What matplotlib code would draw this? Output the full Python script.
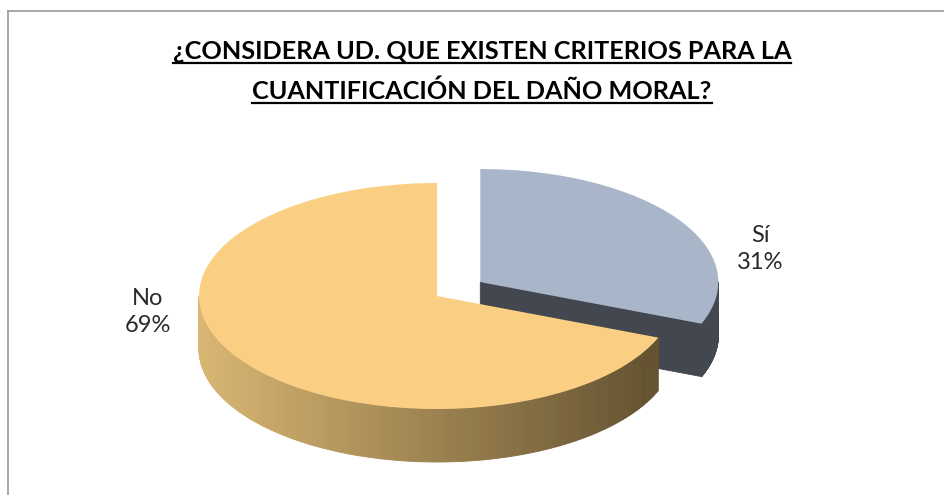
import numpy as np
import matplotlib
matplotlib.use('Agg')
import matplotlib.pyplot as plt
from matplotlib.collections import PolyCollection
from matplotlib.lines import Line2D
from matplotlib.colors import to_rgb

# data
labels = ['Sí', 'No']
shares = [31, 69]
explode = [0.22, 0.0]
title_lines = ['¿CONSIDERA UD. QUE EXISTEN CRITERIOS PARA LA',
               'CUANTIFICACIÓN DEL DAÑO MORAL?']

# colours
top_colors = ['#A9B5C9', '#FBCF83']
side_light = ['#474C55', '#D9B673']
side_dark = ['#434850', '#645230']

W, H = 945, 495
# pie placement in pixels (ellipse centre, radii, thickness)
cx_px, cy_px = 437, 296
rx_px, ry_px = 238, 113
depth = 53 / ry_px

fig = plt.figure(figsize=(W / 100, H / 100), dpi=100)
ax = fig.add_axes([0, 0, 1, 1])

wedges, _ = ax.pie(shares, startangle=90, counterclock=False, explode=explode,
                   colors=top_colors, wedgeprops=dict(linewidth=0))

# squash the pie into an ellipse
ax.set_aspect('auto')
ax.set_xlim(-cx_px / rx_px, (W - cx_px) / rx_px)
ax.set_ylim((cy_px - H) / ry_px, cy_px / ry_px)
ax.axis('off')


def front_intervals(t1, t2):
    # parts of [t1, t2] that face the viewer (lower half of the ellipse)
    out = []
    for k in (-2, -1, 0, 1):
        a, b = max(t1, -180 + 360 * k), min(t2, 360 * k)
        if b > a:
            out.append((a, b))
    return out


# draw back slices first
order = sorted(range(len(wedges)), key=lambda i: -wedges[i].center[1])
z = 1
for i in order:
    w = wedges[i]
    cx, cy = w.center
    r = w.r
    light = np.array(to_rgb(side_light[i]))
    dark = np.array(to_rgb(side_dark[i]))
    polys, cols = [], []

    # radial cut faces
    for a, is_start in ((w.theta1, True), (w.theta2, False)):
        c = np.cos(np.radians(a))
        if (is_start and c > 1e-6) or (not is_start and c < -1e-6):
            ex, ey = cx + r * c, cy + r * np.sin(np.radians(a))
            polys.append([(cx, cy), (ex, ey), (ex, ey - depth), (cx, cy - depth)])
            cols.append(dark)

    # outer rim
    for a, b in front_intervals(w.theta1, w.theta2):
        t = np.radians(np.linspace(a, b, 200))
        xs = cx + r * np.cos(t)
        ys = cy + r * np.sin(t)
        for j in range(len(t) - 1):
            polys.append([(xs[j], ys[j]), (xs[j + 1], ys[j + 1]),
                          (xs[j + 1], ys[j + 1] - depth), (xs[j], ys[j] - depth)])
            f = np.clip(((xs[j] - cx) / r + 1) / 1.9, 0, 1)
            cols.append(light + (dark - light) * f)

    pc = PolyCollection(polys, facecolors=cols, edgecolors=cols, linewidths=0.6, zorder=z)
    ax.add_collection(pc)
    w.set_zorder(z + 1)
    z += 2

# data labels
label_pos = {'Sí': (760, 249), 'No': (148, 312)}
for lab, val in zip(labels, shares):
    px, py = label_pos[lab]
    fig.text(px / W, 1 - py / H, f'{lab}\n{val}%', ha='center', va='center',
             fontsize=17, family='Lato', color='#2a2a2a', linespacing=1.3)

# title with underline
title_x = 482
baselines = [59, 99]
texts = []
for line, by in zip(title_lines, baselines):
    t = fig.text(title_x / W, 1 - by / H, line, ha='center', va='baseline',
                 fontsize=18.2, family='Lato', fontweight='bold', color='black')
    texts.append((t, by))

fig.canvas.draw()
renderer = fig.canvas.get_renderer()
for t, by in texts:
    bb = t.get_window_extent(renderer)
    uy = 1 - (by + 4) / H
    fig.add_artist(Line2D([bb.x0 / W, bb.x1 / W], [uy, uy], transform=fig.transFigure,
                          color='black', linewidth=1.6))

# chart frame (top and left edges visible)
fig.add_artist(Line2D([8 / W, 1], [1 - 11 / H, 1 - 11 / H], transform=fig.transFigure,
                      color='#A0A0A0', linewidth=1.3))
fig.add_artist(Line2D([8 / W, 8 / W], [0, 1 - 11 / H], transform=fig.transFigure,
                      color='#A0A0A0', linewidth=1.3))

fig.savefig('out.png', dpi=100)
